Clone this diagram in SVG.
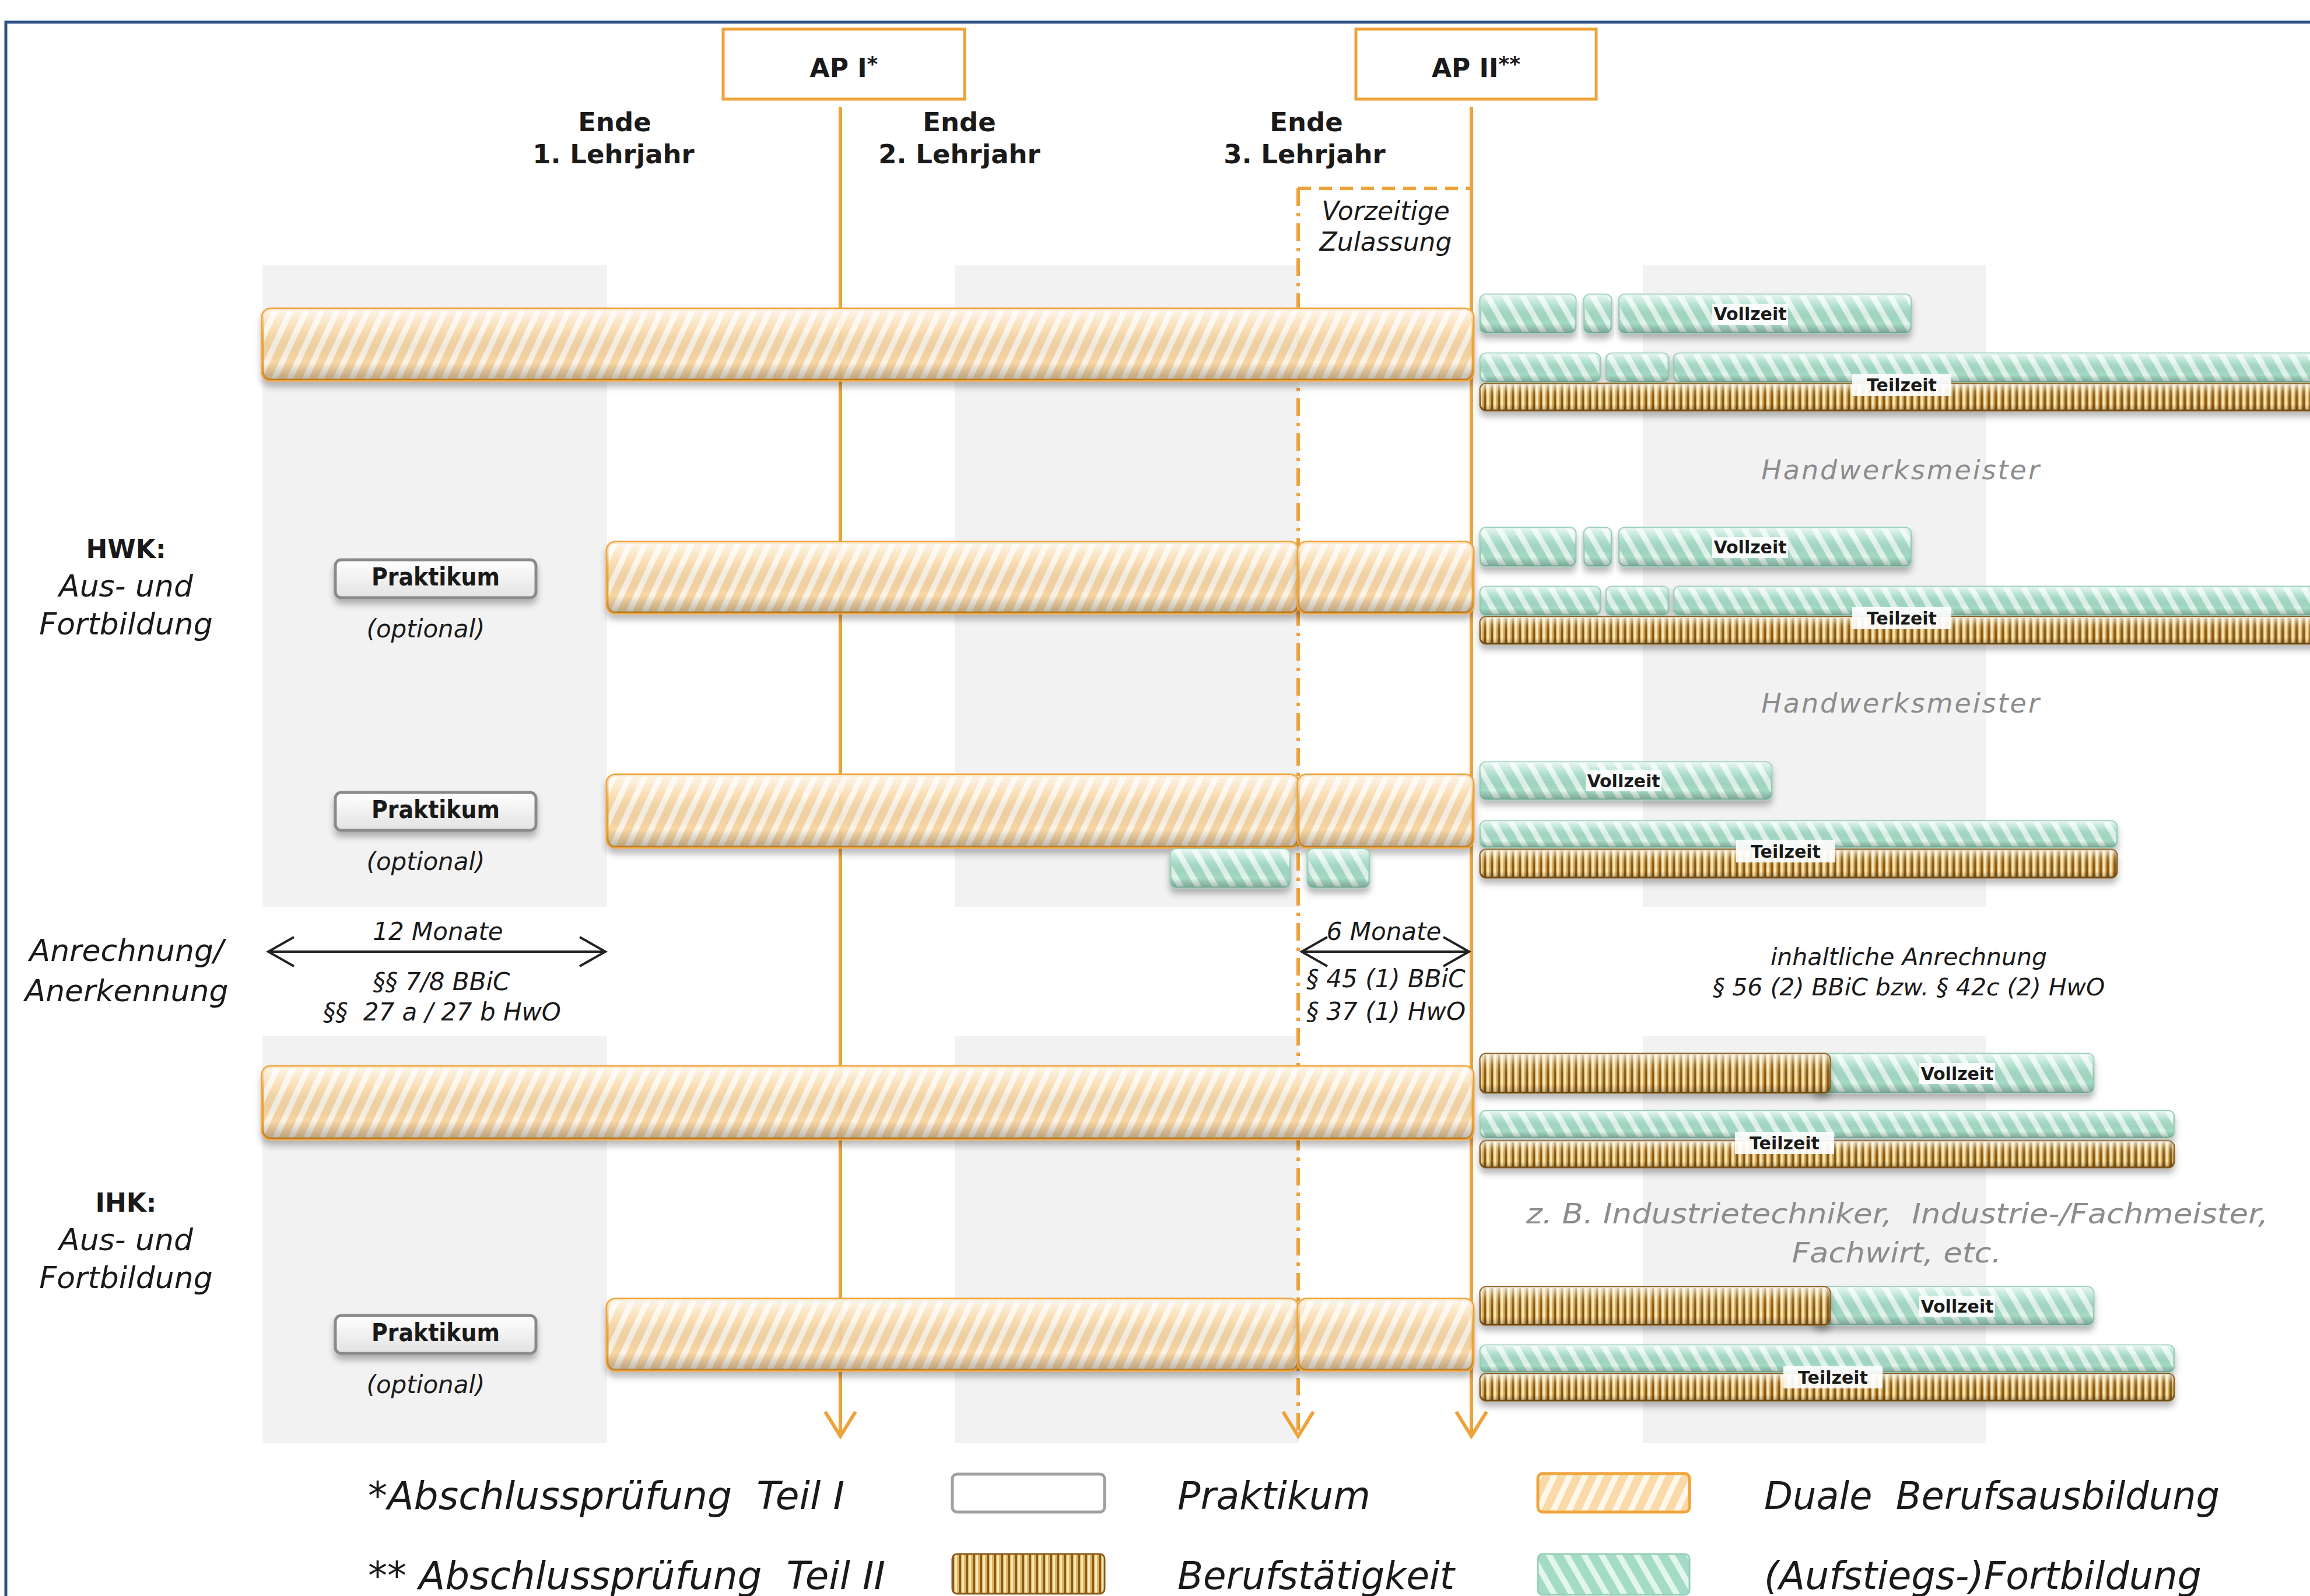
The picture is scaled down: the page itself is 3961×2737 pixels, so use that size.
<svg xmlns="http://www.w3.org/2000/svg" width="3961" height="2737" viewBox="0 0 3961 2737">
<style>
.t{font-family:"DejaVu Sans",sans-serif;fill:#1a1a1a}
.b{font-weight:bold}
.i{font-style:italic}
.c{text-anchor:middle}
.gy{fill:#8c8c8c}
.bg{fill:#f2f2f2}
.or{fill:url(#pOr);stroke:#f0a53a;stroke-width:5;fill-opacity:.9}
.gr{fill:url(#pGr);stroke:#98cfb9;stroke-width:3}
.br{fill:url(#pBr);stroke:#8a5c1c;stroke-width:3}
.gl{fill:url(#gloss);stroke:none}
.sh{filter:url(#sh)}
.lb{fill:#fff;fill-opacity:.9}
.pk{fill:url(#gPk);stroke:#8a8a8a;stroke-width:5}
.ln{fill:none;stroke:#eea23a;stroke-width:6}
.ar{fill:none;stroke:#222;stroke-width:4}
</style>
<defs>
<pattern id="pOr" width="24" height="24" patternUnits="userSpaceOnUse" patternTransform="rotate(25)">
<rect width="24" height="24" fill="#fbd6a0"/><rect width="10" height="24" fill="#fff6e8"/>
</pattern>
<pattern id="pGr" width="26" height="26" patternUnits="userSpaceOnUse" patternTransform="rotate(-30)">
<rect width="26" height="26" fill="#a4dbc6"/><rect width="10" height="26" fill="#e2f6ee"/>
</pattern>
<pattern id="pBr" width="12" height="12" patternUnits="userSpaceOnUse">
<rect width="12" height="12" fill="#e6b962"/><rect width="4" height="12" fill="#8a5c1c"/><rect x="6" width="3" height="12" fill="#fbe9bb"/>
</pattern>
<linearGradient id="gloss" x1="0" y1="0" x2="0" y2="1">
<stop offset="0" stop-color="#fff" stop-opacity=".75"/>
<stop offset=".3" stop-color="#fff" stop-opacity=".15"/>
<stop offset=".75" stop-color="#000" stop-opacity="0"/>
<stop offset="1" stop-color="#000" stop-opacity=".25"/>
</linearGradient>
<linearGradient id="gPk" x1="0" y1="0" x2="0" y2="1">
<stop offset="0" stop-color="#ffffff"/><stop offset="1" stop-color="#e2e2e2"/>
</linearGradient>
<filter id="sh" x="-10%" y="-30%" width="120%" height="190%">
<feDropShadow dx="0" dy="9" stdDeviation="6" flood-color="#000" flood-opacity=".28"/>
</filter>
<marker id="arO" markerUnits="userSpaceOnUse" viewBox="-50 -30 58 60" refX="0" refY="0" markerWidth="58" markerHeight="60" orient="auto" overflow="visible">
<path d="M-42,-26 L0,0 L-42,26" fill="none" stroke="#eea23a" stroke-width="6"/>
</marker>
<marker id="arK" markerUnits="userSpaceOnUse" viewBox="-50 -30 58 60" refX="0" refY="0" markerWidth="58" markerHeight="60" orient="auto-start-reverse" overflow="visible">
<path d="M-44,-25 L0,0 L-44,25" fill="none" stroke="#222" stroke-width="4"/>
</marker>
</defs>

<rect width="3961" height="2737" fill="#fff"/>
<g id="frame">
<path d="M10,2737 V38 H3961" fill="none" stroke="#2c5186" stroke-width="5"/>
</g>

<g id="columns">
<rect class="bg" x="450" y="455" width="591" height="1100"/>
<rect class="bg" x="1637" y="455" width="591" height="1100"/>
<rect class="bg" x="2817" y="455" width="588" height="1100"/>
<rect class="bg" x="450" y="1777" width="591" height="698"/>
<rect class="bg" x="1637" y="1777" width="591" height="698"/>
<rect class="bg" x="2817" y="1777" width="588" height="698"/>
</g>

<g id="connectors">
<path class="ln" d="M1441,183 V2463" marker-end="url(#arO)"/>
<path class="ln" d="M2523,183 V2463" marker-end="url(#arO)"/>
<path class="ln" d="M2226,323 V2463" stroke-dasharray="30 12 6 12" marker-end="url(#arO)"/>
<path class="ln" d="M2226,323 H2523" stroke-width="8" stroke-dasharray="22 14"/>
<path class="ar" d="M460,1632 H1038" marker-start="url(#arK)" marker-end="url(#arK)"/>
<path class="ar" d="M2232,1632 H2519" marker-start="url(#arK)" marker-end="url(#arK)"/>
</g>

<g id="ap1">
<rect x="1240" y="50" width="414" height="120" fill="#fff" stroke="#eea23a" stroke-width="5"/>
<text class="t b c" x="1447" y="132" font-size="44">AP I<tspan font-size="36" dy="-10">*</tspan></text>
</g>
<g id="ap2">
<rect x="2325" y="50" width="412" height="120" fill="#fff" stroke="#eea23a" stroke-width="5"/>
<text class="t b c" x="2531" y="132" font-size="44">AP II<tspan font-size="36" dy="-10">**</tspan></text>
</g>

<g id="headers">
<text class="t b c" x="1054" y="225" font-size="45">Ende</text>
<text class="t b c" x="1052" y="280" font-size="45">1. Lehrjahr</text>
<text class="t b c" x="1645" y="225" font-size="45">Ende</text>
<text class="t b c" x="1645" y="280" font-size="45">2. Lehrjahr</text>
<text class="t b c" x="2240" y="225" font-size="45">Ende</text>
<text class="t b c" x="2237" y="280" font-size="45">3. Lehrjahr</text>
<text class="t i c" x="2376" y="377" font-size="44">Vorzeitige</text>
<text class="t i c" x="2376" y="430" font-size="44">Zulassung</text>
</g>

<g id="hwk-label">
<text class="t b c" x="216" y="957" font-size="44">HWK:</text>
<text class="t i c" x="216" y="1023" font-size="52">Aus- und</text>
<text class="t i c" x="216" y="1088" font-size="52">Fortbildung</text>
</g>
<g id="ihk-label">
<text class="t b c" x="216" y="2078" font-size="44">IHK:</text>
<text class="t i c" x="216" y="2144" font-size="52">Aus- und</text>
<text class="t i c" x="216" y="2209" font-size="52">Fortbildung</text>
</g>

<g id="hwk-row1">
<g class="sh"><rect class="or" x="450" y="530" width="2076" height="122" rx="14"/><rect class="gl" x="450" y="530" width="2076" height="122" rx="14"/></g>
<g class="sh"><rect class="gr" x="2538" y="505" width="164" height="66" rx="10"/><rect class="gl" x="2538" y="505" width="164" height="66" rx="10"/></g>
<g class="sh"><rect class="gr" x="2716" y="505" width="47" height="66" rx="10"/><rect class="gl" x="2716" y="505" width="47" height="66" rx="10"/></g>
<g class="sh"><rect class="gr" x="2776" y="505" width="501" height="66" rx="10"/><rect class="gl" x="2776" y="505" width="501" height="66" rx="10"/></g>
<rect class="lb" x="2936" y="521" width="130" height="36"/>
<text class="t b c" x="3001" y="549" font-size="30">Vollzeit</text>
<g class="sh"><rect class="gr" x="2538" y="606" width="206" height="49" rx="10"/><rect class="gl" x="2538" y="606" width="206" height="49" rx="10"/></g>
<g class="sh"><rect class="gr" x="2754" y="606" width="107" height="49" rx="10"/><rect class="gl" x="2754" y="606" width="107" height="49" rx="10"/></g>
<g class="sh"><rect class="gr" x="2870" y="606" width="1110" height="49" rx="10"/><rect class="gl" x="2870" y="606" width="1110" height="49" rx="10"/></g>
<g class="sh"><rect class="br" x="2538" y="658" width="1442" height="46" rx="10"/><rect class="gl" x="2538" y="658" width="1442" height="46" rx="10"/></g>
<rect class="lb" x="3176" y="641" width="170" height="38"/>
<text class="t b c" x="3261" y="671" font-size="30">Teilzeit</text>
<text class="t i c gy" x="3260" y="822" font-size="46" letter-spacing="3">Handwerksmeister</text>
</g>

<g id="hwk-row2">
<g class="sh"><rect class="pk" x="575" y="960" width="344" height="65" rx="10"/></g>
<text class="t b c" x="747" y="1004" font-size="42" textLength="220" lengthAdjust="spacingAndGlyphs">Praktikum</text>
<text class="t i c" x="730" y="1093" font-size="42">(optional)</text>
<g class="sh"><rect class="or" x="1041" y="930" width="1185" height="121" rx="14"/><rect class="gl" x="1041" y="930" width="1185" height="121" rx="14"/></g>
<g class="sh"><rect class="or" x="2226" y="930" width="300" height="121" rx="14"/><rect class="gl" x="2226" y="930" width="300" height="121" rx="14"/></g>
<g class="sh"><rect class="gr" x="2538" y="905" width="164" height="66" rx="10"/><rect class="gl" x="2538" y="905" width="164" height="66" rx="10"/></g>
<g class="sh"><rect class="gr" x="2716" y="905" width="47" height="66" rx="10"/><rect class="gl" x="2716" y="905" width="47" height="66" rx="10"/></g>
<g class="sh"><rect class="gr" x="2776" y="905" width="501" height="66" rx="10"/><rect class="gl" x="2776" y="905" width="501" height="66" rx="10"/></g>
<rect class="lb" x="2936" y="921" width="130" height="36"/>
<text class="t b c" x="3001" y="949" font-size="30">Vollzeit</text>
<g class="sh"><rect class="gr" x="2538" y="1006" width="206" height="49" rx="10"/><rect class="gl" x="2538" y="1006" width="206" height="49" rx="10"/></g>
<g class="sh"><rect class="gr" x="2754" y="1006" width="107" height="49" rx="10"/><rect class="gl" x="2754" y="1006" width="107" height="49" rx="10"/></g>
<g class="sh"><rect class="gr" x="2870" y="1006" width="1110" height="49" rx="10"/><rect class="gl" x="2870" y="1006" width="1110" height="49" rx="10"/></g>
<g class="sh"><rect class="br" x="2538" y="1058" width="1442" height="46" rx="10"/><rect class="gl" x="2538" y="1058" width="1442" height="46" rx="10"/></g>
<rect class="lb" x="3176" y="1041" width="170" height="38"/>
<text class="t b c" x="3261" y="1071" font-size="30">Teilzeit</text>
<text class="t i c gy" x="3260" y="1222" font-size="46" letter-spacing="3">Handwerksmeister</text>
</g>

<g id="hwk-row3">
<g class="sh"><rect class="pk" x="575" y="1359" width="344" height="65" rx="10"/></g>
<text class="t b c" x="747" y="1403" font-size="42" textLength="220" lengthAdjust="spacingAndGlyphs">Praktikum</text>
<text class="t i c" x="730" y="1492" font-size="42">(optional)</text>
<g class="sh"><rect class="or" x="1041" y="1329" width="1185" height="124" rx="14"/><rect class="gl" x="1041" y="1329" width="1185" height="124" rx="14"/></g>
<g class="sh"><rect class="or" x="2226" y="1329" width="300" height="124" rx="14"/><rect class="gl" x="2226" y="1329" width="300" height="124" rx="14"/></g>
<g class="sh"><rect class="gr" x="2007" y="1456" width="205" height="66" rx="10"/><rect class="gl" x="2007" y="1456" width="205" height="66" rx="10"/></g>
<g class="sh"><rect class="gr" x="2242" y="1456" width="106" height="66" rx="10"/><rect class="gl" x="2242" y="1456" width="106" height="66" rx="10"/></g>
<g class="sh"><rect class="gr" x="2538" y="1307" width="500" height="64" rx="10"/><rect class="gl" x="2538" y="1307" width="500" height="64" rx="10"/></g>
<rect class="lb" x="2719" y="1321" width="130" height="36"/>
<text class="t b c" x="2784" y="1350" font-size="30">Vollzeit</text>
<g class="sh"><rect class="gr" x="2538" y="1408" width="1092" height="45" rx="10"/><rect class="gl" x="2538" y="1408" width="1092" height="45" rx="10"/></g>
<g class="sh"><rect class="br" x="2538" y="1457" width="1092" height="48" rx="10"/><rect class="gl" x="2538" y="1457" width="1092" height="48" rx="10"/></g>
<rect class="lb" x="2977" y="1441" width="170" height="38"/>
<text class="t b c" x="3062" y="1471" font-size="30">Teilzeit</text>
</g>

<g id="anrechnung">
<text class="t i c" x="217" y="1648" font-size="52">Anrechnung/</text>
<text class="t i c" x="217" y="1717" font-size="52">Anerkennung</text>
<text class="t i c" x="751" y="1612" font-size="42">12 Monate</text>
<text class="t i c" x="757" y="1698" font-size="42">§§ 7/8 BBiC</text>
<text class="t i c" x="758" y="1750" font-size="42" xml:space="preserve">§§  27 a / 27 b HwO</text>
<text class="t i c" x="2373" y="1612" font-size="42">6 Monate</text>
<text class="t i" x="2240" y="1693" font-size="42">§ 45 (1) BBiC</text>
<text class="t i" x="2240" y="1749" font-size="42">§ 37 (1) HwO</text>
<text class="t i c" x="3273" y="1655" font-size="41">inhaltliche Anrechnung</text>
<text class="t i c" x="3273" y="1707" font-size="41">§ 56 (2) BBiC bzw. § 42c (2) HwO</text>
</g>

<g id="ihk-row1">
<g class="sh"><rect class="or" x="450" y="1829" width="2076" height="124" rx="14"/><rect class="gl" x="450" y="1829" width="2076" height="124" rx="14"/></g>
<g class="sh"><rect class="gr" x="3110" y="1807" width="480" height="67" rx="10"/><rect class="gl" x="3110" y="1807" width="480" height="67" rx="10"/></g>
<g class="sh"><rect class="br" x="2538" y="1807" width="600" height="67" rx="10"/><rect class="gl" x="2538" y="1807" width="600" height="67" rx="10"/></g>
<rect class="lb" x="3291" y="1823" width="130" height="36"/>
<text class="t b c" x="3356" y="1852" font-size="30">Vollzeit</text>
<g class="sh"><rect class="gr" x="2538" y="1905" width="1190" height="46" rx="10"/><rect class="gl" x="2538" y="1905" width="1190" height="46" rx="10"/></g>
<g class="sh"><rect class="br" x="2538" y="1957" width="1190" height="45" rx="10"/><rect class="gl" x="2538" y="1957" width="1190" height="45" rx="10"/></g>
<rect class="lb" x="2975" y="1941" width="170" height="38"/>
<text class="t b c" x="3060" y="1971" font-size="30">Teilzeit</text>
<text class="t i c gy" x="3253" y="2098" font-size="48" textLength="1272" lengthAdjust="spacingAndGlyphs" xml:space="preserve">z. B. Industrietechniker,  Industrie-/Fachmeister,</text>
<text class="t i c gy" x="3252" y="2165" font-size="48" textLength="359" lengthAdjust="spacingAndGlyphs">Fachwirt, etc.</text>
</g>

<g id="ihk-row2">
<g class="sh"><rect class="pk" x="575" y="2256" width="344" height="65" rx="10"/></g>
<text class="t b c" x="747" y="2300" font-size="42" textLength="220" lengthAdjust="spacingAndGlyphs">Praktikum</text>
<text class="t i c" x="730" y="2389" font-size="42">(optional)</text>
<g class="sh"><rect class="or" x="1041" y="2228" width="1185" height="122" rx="14"/><rect class="gl" x="1041" y="2228" width="1185" height="122" rx="14"/></g>
<g class="sh"><rect class="or" x="2226" y="2228" width="300" height="122" rx="14"/><rect class="gl" x="2226" y="2228" width="300" height="122" rx="14"/></g>
<g class="sh"><rect class="gr" x="3110" y="2207" width="480" height="65" rx="10"/><rect class="gl" x="3110" y="2207" width="480" height="65" rx="10"/></g>
<g class="sh"><rect class="br" x="2538" y="2207" width="600" height="65" rx="10"/><rect class="gl" x="2538" y="2207" width="600" height="65" rx="10"/></g>
<rect class="lb" x="3291" y="2222" width="130" height="36"/>
<text class="t b c" x="3356" y="2251" font-size="30">Vollzeit</text>
<g class="sh"><rect class="gr" x="2538" y="2307" width="1190" height="46" rx="10"/><rect class="gl" x="2538" y="2307" width="1190" height="46" rx="10"/></g>
<g class="sh"><rect class="br" x="2538" y="2356" width="1190" height="46" rx="10"/><rect class="gl" x="2538" y="2356" width="1190" height="46" rx="10"/></g>
<rect class="lb" x="3058" y="2343" width="170" height="38"/>
<text class="t b c" x="3143" y="2373" font-size="30">Teilzeit</text>
</g>

<g id="legend">
<text class="t i" x="631" y="2588" font-size="66" textLength="817" lengthAdjust="spacingAndGlyphs" xml:space="preserve">*Abschlussprüfung  Teil I</text>
<text class="t i" x="631" y="2725" font-size="66" textLength="887" lengthAdjust="spacingAndGlyphs" xml:space="preserve">** Abschlussprüfung  Teil II</text>
<rect x="1633" y="2528" width="261" height="65" rx="8" fill="#fff" stroke="#a0a0a0" stroke-width="5"/>
<rect class="br" x="1633" y="2665" width="261" height="68" rx="8" stroke-width="5"/>
<text class="t i" x="2019" y="2588" font-size="66" textLength="331" lengthAdjust="spacingAndGlyphs">Praktikum</text>
<text class="t i" x="2019" y="2725" font-size="66" textLength="475" lengthAdjust="spacingAndGlyphs">Berufstätigkeit</text>
<rect class="or" x="2637" y="2527" width="260" height="66" rx="8" stroke-width="7"/>
<rect class="gr" x="2637" y="2665" width="260" height="70" rx="8" stroke-width="5"/>
<text class="t i" x="3025" y="2588" font-size="66" textLength="781" lengthAdjust="spacingAndGlyphs" xml:space="preserve">Duale  Berufsausbildung</text>
<text class="t i" x="3025" y="2725" font-size="66" textLength="750" lengthAdjust="spacingAndGlyphs">(Aufstiegs-)Fortbildung</text>
</g>
</svg>
